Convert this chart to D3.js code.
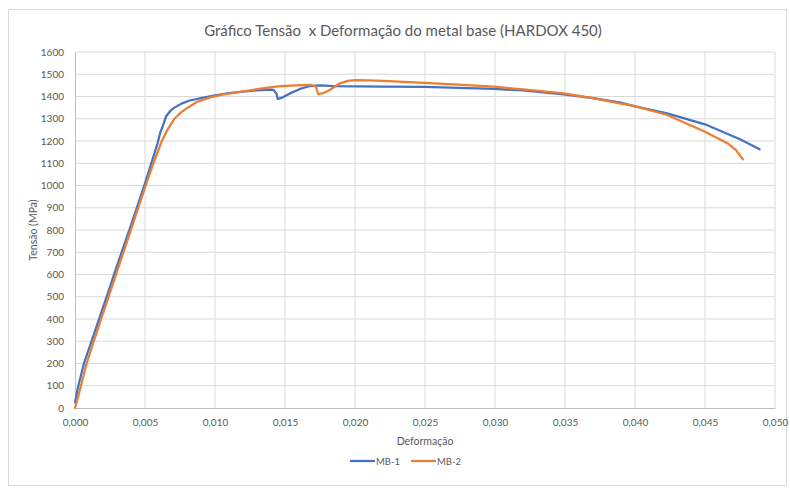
<!DOCTYPE html>
<html>
<head>
<meta charset="utf-8">
<script src="https://cdn.jsdelivr.net/npm/d3@7"></script>
<style>
  body { margin: 0; background: #fff; }
  text { font-family: Lato, "Open Sans", sans-serif; fill: #595959; }
</style>
</head>
<body>
<script>
var w = 790,
    h = 489;

// Curve MB-1 (strain, stress in MPa)
var strainMB1 = [0, 0.0002, 0.00064, 0.00145, 0.00226, 0.0030, 0.0040, 0.00495, 0.0055, 0.0059,
                 0.0061, 0.0062, 0.0065, 0.0068, 0.0071, 0.0076, 0.0082, 0.0090, 0.0100, 0.0110, 0.0120,
                 0.0130, 0.0140, 0.01417, 0.0144, 0.01448, 0.0148, 0.01536, 0.01607, 0.01679, 0.0175,
                 0.0185, 0.0200, 0.0220, 0.0250, 0.0280, 0.0300, 0.0320, 0.0349, 0.0370, 0.0389,
                 0.0400, 0.0423, 0.0450, 0.0475, 0.0489];
var stressMB1 = [25, 90, 200, 350, 500, 640, 822, 1000, 1110, 1190,
                 1240, 1255, 1310, 1335, 1350, 1368, 1382, 1393, 1405, 1415, 1422,
                 1428, 1431, 1430, 1412, 1389, 1395, 1414, 1434, 1447, 1450,
                 1447, 1445, 1444, 1443, 1438, 1434, 1427, 1410, 1393, 1374,
                 1356, 1324, 1275, 1208, 1163];

// Curve MB-2
var strainMB2 = [0, 0.0002, 0.00083, 0.0016, 0.00245, 0.0033, 0.0042, 0.00505, 0.0056, 0.0062,
                 0.0066, 0.0071, 0.0076, 0.0081, 0.0087, 0.0096, 0.0105, 0.0115, 0.0125, 0.0135,
                 0.0145, 0.0154, 0.0162, 0.0169, 0.0172, 0.01738, 0.0177, 0.0182, 0.0189, 0.0195,
                 0.0200, 0.0210, 0.0220, 0.0246, 0.0270, 0.0299, 0.0320, 0.0349, 0.0370, 0.0389,
                 0.0400, 0.0423, 0.0450, 0.0466, 0.0472, 0.0477];
var stressMB2 = [0, 45, 200, 350, 510, 670, 840, 1000, 1100, 1200,
                 1250, 1300, 1330, 1352, 1375, 1395, 1408, 1418, 1428, 1438,
                 1446, 1449, 1451, 1452, 1445, 1410, 1415, 1429, 1459, 1470,
                 1474, 1472, 1470, 1462, 1455, 1444, 1432, 1414, 1393, 1369,
                 1357, 1317, 1242, 1190, 1160, 1118];

var xTicks = d3.range(0, 0.0501, 0.005);
var yTicks = d3.range(0, 1601, 100);
var seriesNames = ['MB-1', 'MB-2'];
var seriesColors = ['#4472C4', '#ED7D31'];

var svg = d3.select('body')
            .append('svg')
            .attr('width', w)
            .attr('height', h);

// chart frame
svg.append('rect')
   .attr('x', 8.5).attr('y', 9.5)
   .attr('width', 778).attr('height', 476)
   .style('fill', '#fff')
   .style('stroke', '#d9d9d9');

var x = d3.scaleLinear().domain([0, 0.05]).range([75, 775]);
var y = d3.scaleLinear().domain([0, 1600]).range([408, 52]);

var fmt = function(d) { return d3.format('.3f')(d).replace('.', ','); };

// gridlines
svg.append('g')
   .selectAll('line')
   .data(xTicks.slice(1))
   .enter()
   .append('line')
   .attr('x1', function(d) { return x(d); })
   .attr('x2', function(d) { return x(d); })
   .attr('y1', y(0)).attr('y2', y(1600))
   .style('stroke', '#d9d9d9');

svg.append('g')
   .selectAll('line')
   .data(yTicks.slice(1))
   .enter()
   .append('line')
   .attr('x1', x(0)).attr('x2', x(0.05))
   .attr('y1', function(d) { return y(d); })
   .attr('y2', function(d) { return y(d); })
   .style('stroke', '#d9d9d9');

// axes (no tick marks, Excel style)
var xAxis = svg.append('g')
   .attr('transform', 'translate(0,' + y(0) + ')')
   .call(d3.axisBottom(x).tickValues(xTicks).tickFormat(fmt).tickSize(0).tickPadding(11));
var yAxis = svg.append('g')
   .attr('transform', 'translate(' + x(0) + ',0)')
   .call(d3.axisLeft(y).tickValues(yTicks).tickFormat(d3.format('d')).tickSize(0).tickPadding(11));

[xAxis, yAxis].forEach(function(g) {
  g.selectAll('text').style('font-size', '10px').style('fill', '#595959')
   .style('font-family', 'Lato, sans-serif');
});
xAxis.select('.domain').style('stroke', '#bfbfbf');
yAxis.select('.domain').style('stroke', '#bfbfbf');

// curves
var line = d3.line()
             .x(function(d) { return x(d[0]); })
             .y(function(d) { return y(d[1]); });

var curves = [d3.zip(strainMB1, stressMB1), d3.zip(strainMB2, stressMB2)];

svg.selectAll('path.curve')
   .data(curves)
   .enter()
   .append('path')
   .attr('class', 'curve')
   .attr('d', line)
   .style('fill', 'none')
   .style('stroke', function(d, i) { return seriesColors[i]; })
   .style('stroke-width', 2.25)
   .style('stroke-linejoin', 'round')
   .style('stroke-linecap', 'round');

// titles
svg.append('text')
   .attr('x', 403).attr('y', 36)
   .attr('text-anchor', 'middle')
   .attr('xml:space', 'preserve')
   .style('font-size', '15px')
   .text('Gráfico Tensão  x Deformação do metal base (HARDOX 450)');

svg.append('text')
   .attr('x', 425).attr('y', 445)
   .attr('text-anchor', 'middle')
   .style('font-size', '10.5px')
   .text('Deformação');

svg.append('text')
   .attr('transform', 'translate(37,230) rotate(-90)')
   .attr('text-anchor', 'middle')
   .style('font-size', '10.5px')
   .text('Tensão (MPa)');

// legend
var legend = svg.append('g')
                .selectAll('g')
                .data(seriesNames)
                .enter()
                .append('g')
                .attr('transform', function(d, i) { return 'translate(' + (350 + i * 61) + ',461)'; });

legend.append('line')
      .attr('x1', 0).attr('x2', 25)
      .style('stroke', function(d, i) { return seriesColors[i]; })
      .style('stroke-width', 2.25);

legend.append('text')
      .attr('x', 26).attr('y', 3.5)
      .style('font-size', '9.5px')
      .text(function(d) { return d; });
</script>
</body>
</html>
